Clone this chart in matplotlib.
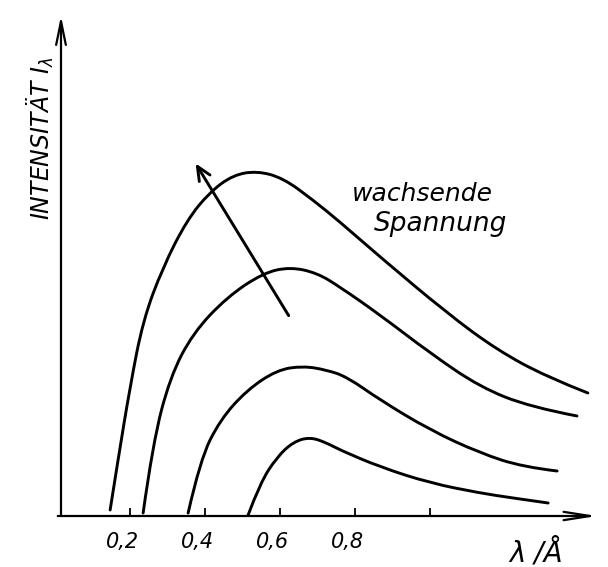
import numpy as np
import matplotlib
matplotlib.use("Agg")
import matplotlib.pyplot as plt
from matplotlib.path import Path
from matplotlib.patches import PathPatch

# Spektren bei wachsender Spannung (lambda in Angstrom, Intensitaet willkuerlich)
lam1 = [0.147, 0.168, 0.200, 0.235, 0.288, 0.352, 0.413, 0.475, 0.539, 0.608, 0.688, 0.760, 0.867, 1.045, 1.179, 1.312, 1.421]
int1 = [0.06, 0.56, 1.29, 1.96, 2.49, 2.96, 3.24, 3.41, 3.45, 3.38, 3.16, 2.94, 2.59, 2.03, 1.66, 1.39, 1.23]

lam2 = [0.235, 0.261, 0.307, 0.368, 0.459, 0.555, 0.627, 0.699, 0.760, 0.867, 1.000, 1.133, 1.267, 1.392]
int2 = [0.03, 0.73, 1.39, 1.83, 2.19, 2.43, 2.49, 2.43, 2.29, 2.01, 1.63, 1.29, 1.09, 1.00]

lam3 = [0.355, 0.387, 0.440, 0.512, 0.592, 0.661, 0.725, 0.779, 0.867, 1.000, 1.133, 1.248, 1.339]
int3 = [0.03, 0.56, 0.96, 1.26, 1.46, 1.50, 1.46, 1.39, 1.16, 0.86, 0.63, 0.49, 0.45]

lam4 = [0.515, 0.547, 0.592, 0.635, 0.680, 0.725, 0.760, 0.867, 1.000, 1.133, 1.221, 1.315]
int4 = [0.01, 0.33, 0.59, 0.74, 0.79, 0.73, 0.66, 0.49, 0.33, 0.23, 0.18, 0.13]

ticks = [0.2, 0.4, 0.6, 0.8, 1.0]
tick_labels = ["0,2", "0,4", "0,6", "0,8"]


def smooth_path(x, y):
    # quadratische Bezier-Kurve: Messpunkte als Kontrollpunkte, Mittelpunkte auf der Kurve
    pts = np.column_stack([x, y])
    verts = [pts[0]]
    codes = [Path.MOVETO]
    for i in range(1, len(pts) - 1):
        mid = (pts[i] + pts[i + 1]) / 2
        if i == len(pts) - 2:
            mid = pts[i + 1]
        verts += [pts[i], mid]
        codes += [Path.CURVE3, Path.CURVE3]
    return Path(verts, codes)


fig = plt.figure(figsize=(6.08, 5.67), dpi=100)
ax = fig.add_axes([0, 0, 1, 1])
ax.set_xlim(-55 / 375, 553 / 375)
ax.set_ylim(-0.51, 5.16)
ax.axis("off")

for lam, inten in [(lam1, int1), (lam2, int2), (lam3, int3), (lam4, int4)]:
    ax.add_patch(PathPatch(smooth_path(lam, inten), facecolor="none", edgecolor="black",
                           lw=2.1, capstyle="round", joinstyle="round"))

# Achsen
ax.annotate("", xy=(0.016, 5.03), xytext=(0.016, -0.01),
            arrowprops=dict(arrowstyle="->,head_length=1.7,head_width=0.35", lw=1.6, color="black"))
ax.annotate("", xy=(1.453, 0.0), xytext=(0.0, 0.0),
            arrowprops=dict(arrowstyle="->,head_length=1.9,head_width=0.3", lw=1.6, color="black"))
ax.vlines(ticks, 0, 0.08, color="black", lw=1.3)

for t, lab in zip(ticks, tick_labels):
    ax.text(t - 0.02, -0.26, lab, ha="center", va="center", fontsize=15, fontstyle="italic")

ax.text(1.283, -0.37, "λ /Å", ha="center", va="center", fontsize=20, fontstyle="italic")
ax.text(-0.04, 3.78, r"INTENSITÄT $I_\lambda$", rotation=90, ha="center", va="center",
        fontsize=17, fontstyle="italic")

# Pfeil: wachsende Spannung
ax.annotate("", xy=(0.371, 3.55), xytext=(0.627, 1.98),
            arrowprops=dict(arrowstyle="->,head_length=1.0,head_width=0.45", lw=2.1, color="black"))
ax.text(0.981, 3.22, "wachsende", ha="center", va="center", fontsize=18, fontstyle="italic")
ax.text(1.029, 2.92, "Spannung", ha="center", va="center", fontsize=19, fontstyle="italic")

fig.savefig("out.png", dpi=100)
